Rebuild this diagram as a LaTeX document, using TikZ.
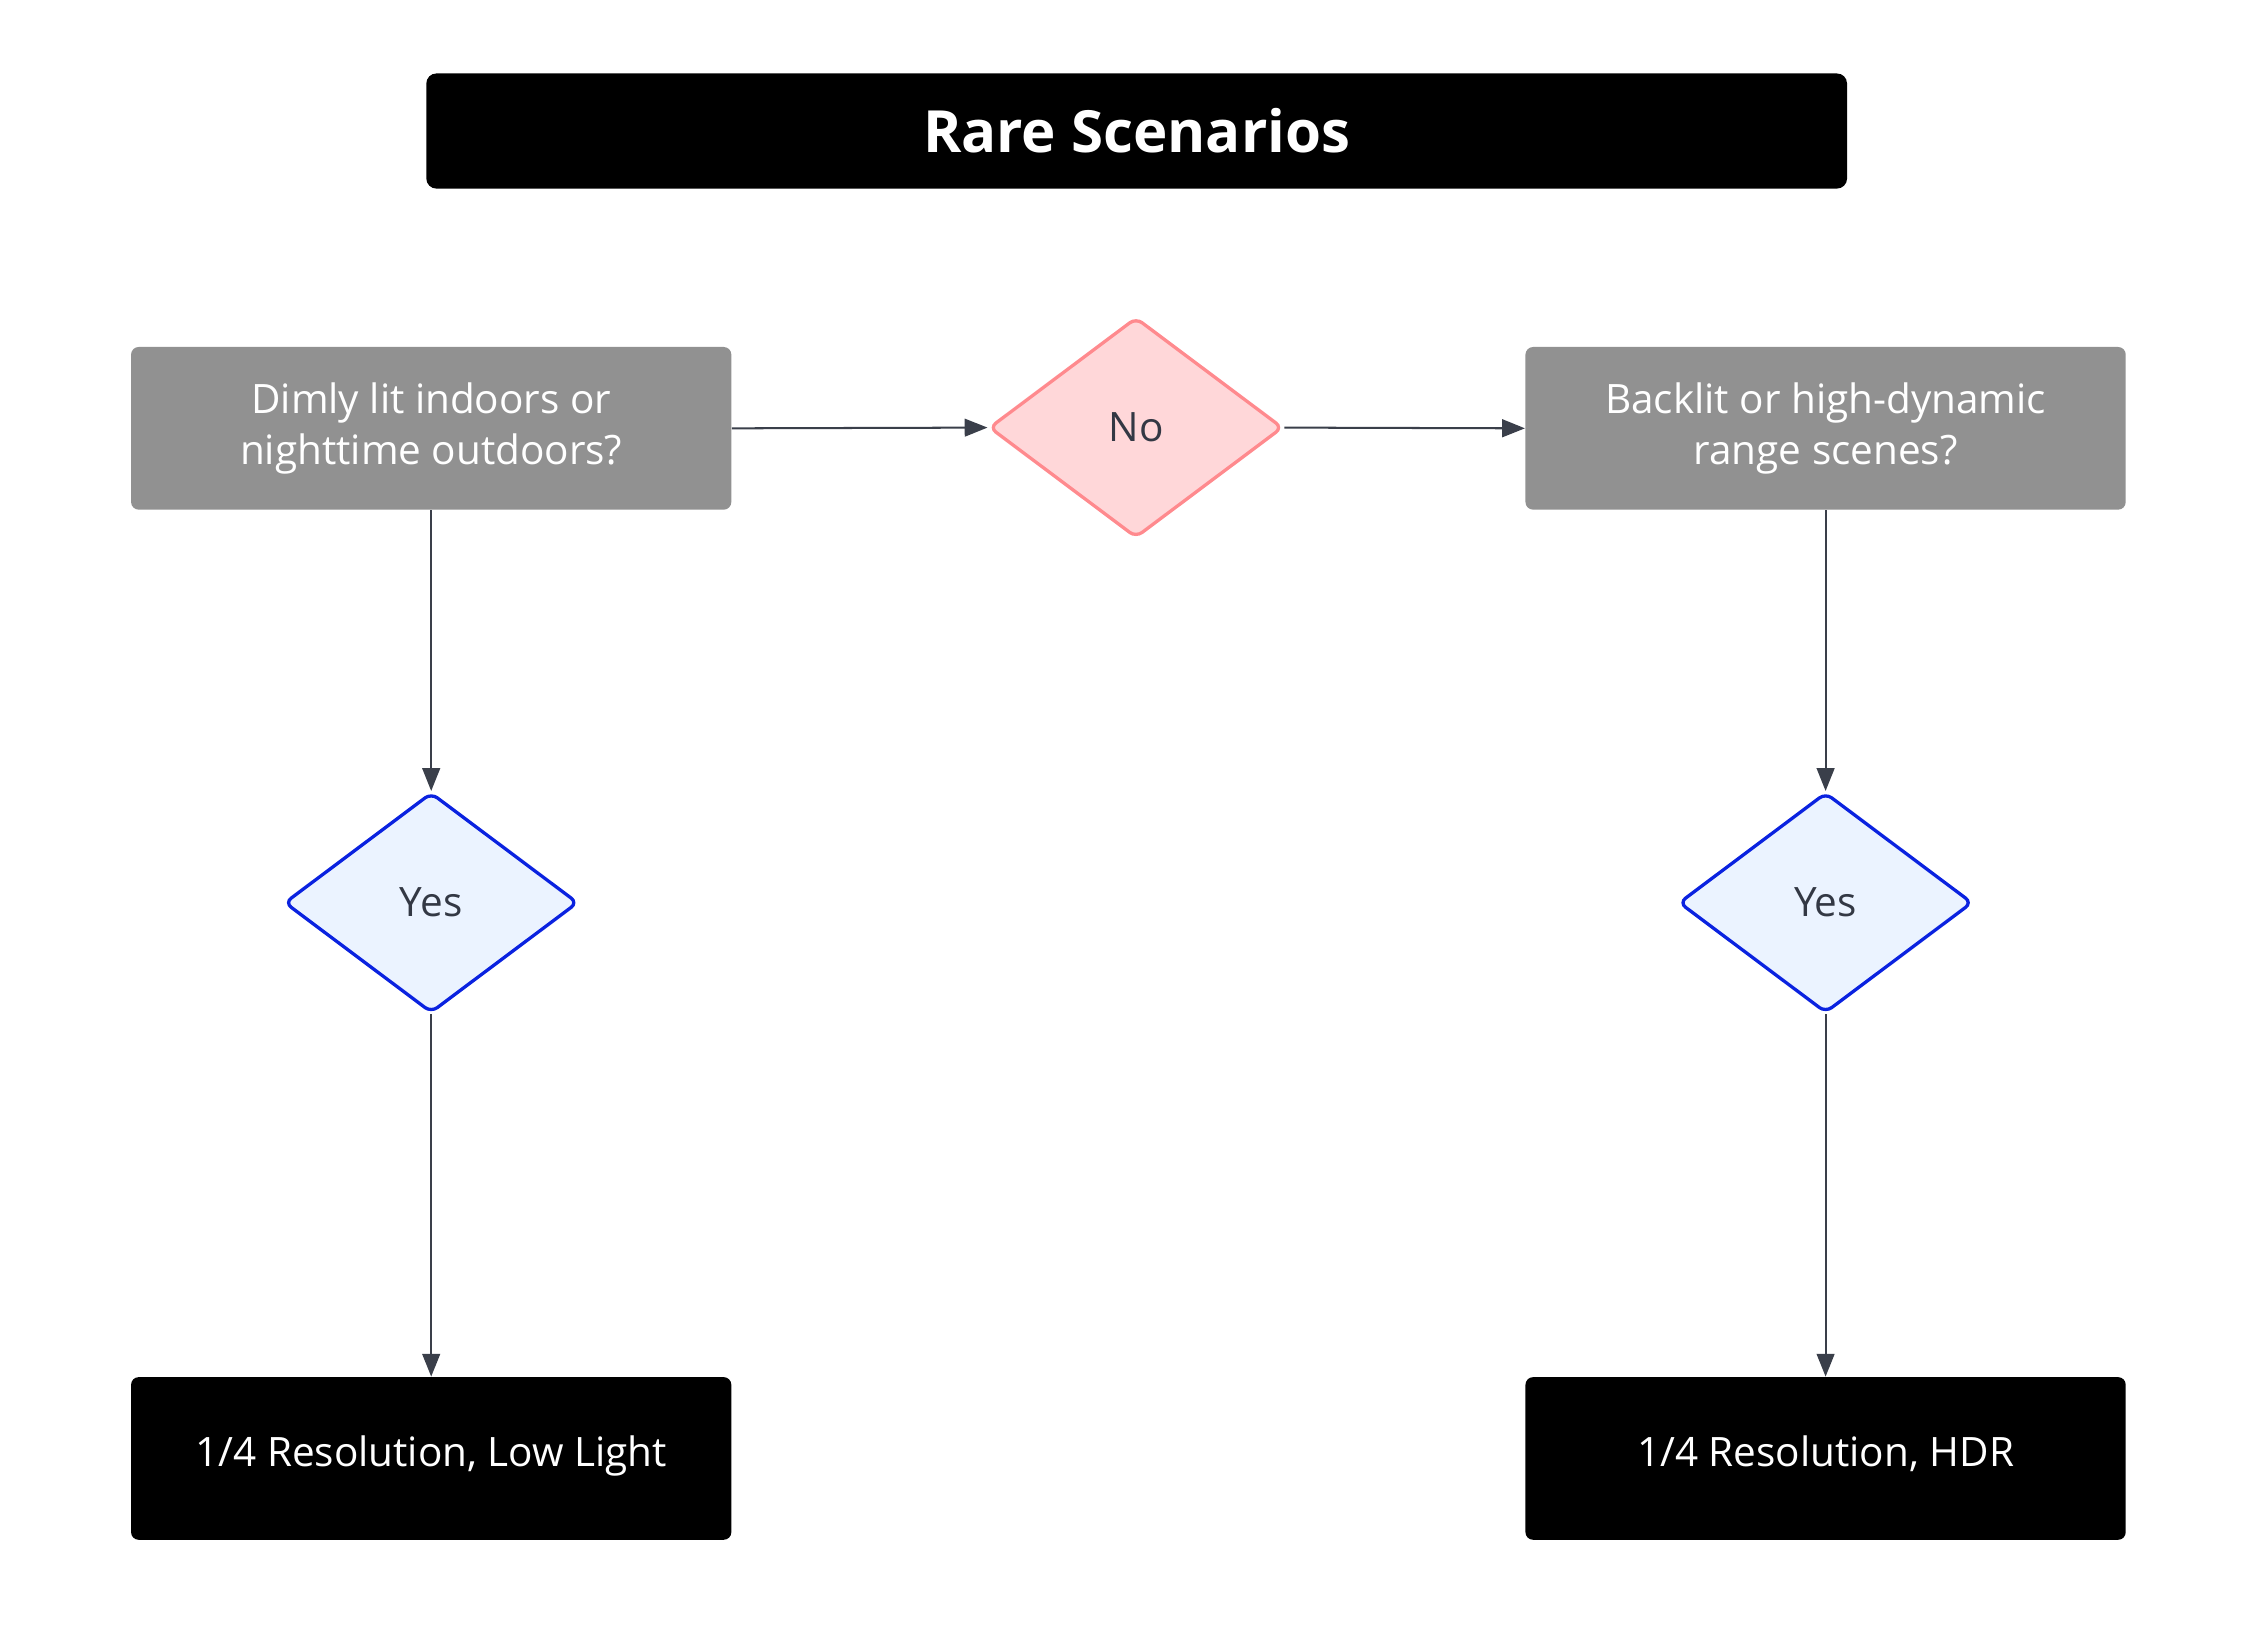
\documentclass[tikz,border=0pt]{standalone}
\usepackage{fontspec}
\setmainfont{Open Sans}
\usetikzlibrary{shapes.geometric,arrows.meta}
\definecolor{boxgray}{HTML}{919191}
\definecolor{nofill}{HTML}{FFD7D9}
\definecolor{nostroke}{HTML}{FF8A8E}
\definecolor{yesfill}{HTML}{EBF3FF}
\definecolor{yesstroke}{HTML}{0A22E0}
\definecolor{txt}{HTML}{333844}
\definecolor{arr}{HTML}{3A3F4A}
\tikzset{
  x=0.02cm,y=-0.02cm,
  gbox/.style={rectangle,rounded corners=3pt,fill=boxgray,text=white,minimum width=8.34cm,minimum height=2.26cm,align=center,font=\fontsize{16}{20}\selectfont},
  bbox/.style={rectangle,rounded corners=3pt,fill=black,text=white,minimum width=8.34cm,minimum height=2.26cm,text height=1.5ex,text depth=.3ex,font=\fontsize{16}{20}\selectfont},
  dia/.style={diamond,rounded corners=3pt,minimum width=4.08cm,minimum height=3.06cm,inner sep=0pt,line width=1.3pt,text=txt,font=\fontsize{16}{20}\selectfont},
  con/.style={draw=arr,line width=0.8pt,-{Triangle[width=7pt,length=9pt]}}
}
\begin{document}
\begin{tikzpicture}
\useasboundingbox[fill=white] (0,0) rectangle (1560,1129);
\node[rectangle,rounded corners=4pt,fill=black,text=white,minimum width=19.74cm,minimum height=1.6cm,font=\bfseries\fontsize{23}{28}\selectfont] (title) at (789.5,91) {Rare Scenarios};
\node[gbox] (q1) at (299.5,297.5) {Dimly lit indoors or\\nighttime outdoors?};
\node[dia,fill=nofill,draw=nostroke] (no) at (789,297) {No};
\node[gbox] (q2) at (1268,297.5) {Backlit or high-dynamic\\range scenes?};
\node[dia,fill=yesfill,draw=yesstroke] (y1) at (299.5,627) {Yes};
\node[dia,fill=yesfill,draw=yesstroke] (y2) at (1268,627) {Yes};
\node[bbox] (r1) at (299.5,1013) {1/4 Resolution, Low Light};
\node[bbox] (r2) at (1268,1013) {1/4 Resolution, HDR};
\draw[con] (q1.east) -- (no.west);
\draw[con] (no.east) -- (q2.west);
\draw[con] (q1.south) -- (y1.north);
\draw[con] (y1.south) -- (r1.north);
\draw[con] (q2.south) -- (y2.north);
\draw[con] (y2.south) -- (r2.north);
\end{tikzpicture}
\end{document}
